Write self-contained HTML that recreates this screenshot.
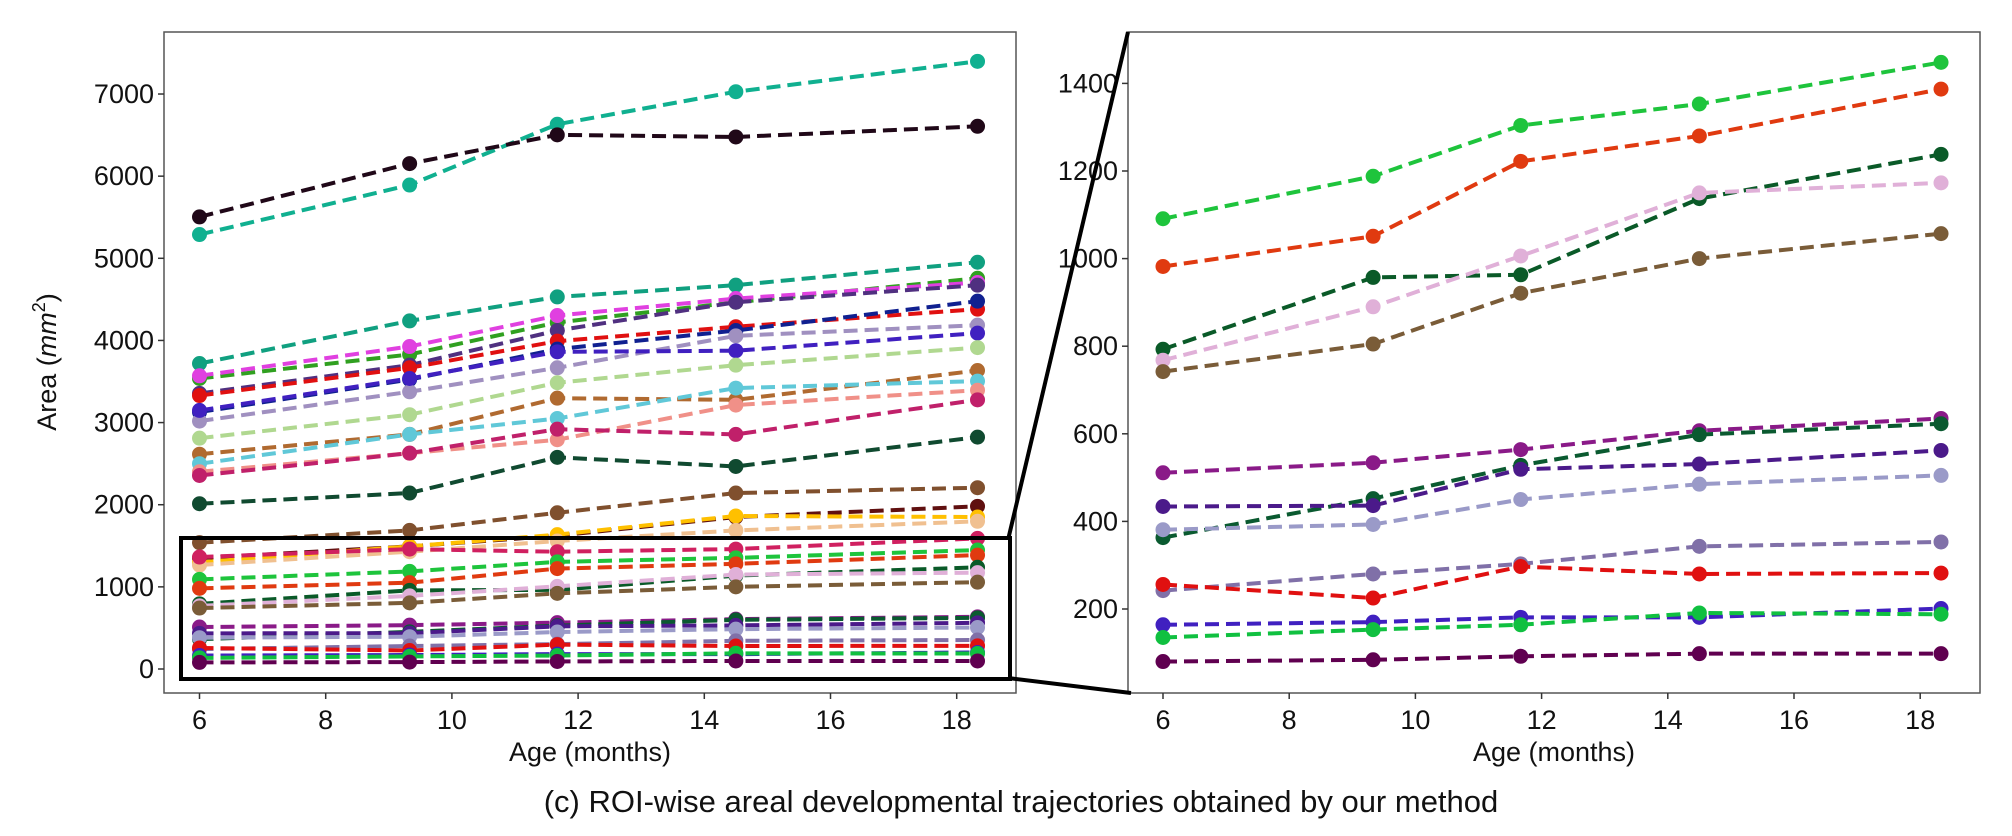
<!DOCTYPE html>
<html><head><meta charset="utf-8">
<style>
body{margin:0;background:#fff;}
svg{display:block;font-family:"Liberation Sans","DejaVu Sans",sans-serif;}
</style></head>
<body>
<svg id="chart" width="2012" height="836" viewBox="0 0 2012 836" xmlns="http://www.w3.org/2000/svg">
<g id="left"></g>
<g id="right"></g>
<text x="1021" y="812" font-size="31" text-anchor="middle" fill="#111">(c) ROI-wise areal developmental trajectories obtained by our method</text>
</svg>
<script>
const ages = [6, 9.33, 11.67, 14.5, 18.33];
const xTicks = [6, 8, 10, 12, 14, 16, 18];
const leftYTicks = [0, 1000, 2000, 3000, 4000, 5000, 6000, 7000];
const rightYTicks = [200, 400, 600, 800, 1000, 1200, 1400];

// series shared by both panels (zoomed region)
const zoomColors = ["#1ec43c","#e03a10","#0a5a28","#e0b0d8","#7a5c38","#8a1a88","#0a5a30","#4b1a8a","#9a9ac8","#8070a8","#e01010","#4020c0","#10c040","#600050"];
const zoomValues = [
 [1091,1188,1304,1353,1448],
 [982,1051,1222,1280,1387],
 [793,957,963,1137,1238],
 [768,890,1006,1150,1173],
 [742,805,921,1000,1057],
 [511,534,564,607,635],
 [363,452,528,598,623],
 [434,436,519,531,562],
 [381,393,450,485,505],
 [242,280,303,343,353],
 [256,225,297,280,282],
 [164,170,181,181,201],
 [135,153,164,191,188],
 [80,84,92,98,98]
];
// other series only in left panel
const upperColors = ["#10b090","#200818","#10a080","#30a020","#e040e0","#503080","#e01010","#102090","#a090c0","#4020c0","#b0d890","#b06a30","#60c8d8","#f09088","#c0206a","#104a30","#80502e","#601010","#ffc000","#f0c090","#d02060"];
const upperValues = [
 [5289,5892,6632,7028,7398],
 [5504,6153,6503,6477,6607],
 [3719,4238,4530,4673,4952],
 [3537,3829,4219,4465,4757],
 [3570,3926,4303,4510,4705],
 [3355,3699,4121,4465,4673],
 [3329,3667,3991,4167,4381],
 [3128,3524,3894,4121,4478],
 [3018,3375,3667,4056,4186],
 [3148,3537,3861,3875,4089],
 [2810,3096,3485,3699,3913],
 [2615,2856,3297,3277,3634],
 [2499,2856,3050,3420,3505],
 [2401,2628,2791,3213,3394],
 [2356,2628,2920,2856,3277],
 [2012,2142,2577,2466,2823],
 [1538,1687,1902,2142,2207],
 [1350,1493,1623,1850,1980],
 [1298,1493,1636,1863,1850],
 [1266,1428,1558,1687,1798],
 [1363,1460,1428,1460,1590]
];

const NS="http://www.w3.org/2000/svg";
function mk(parent,tag,attrs){const e=document.createElementNS(NS,tag);for(const k in attrs)e.setAttribute(k,attrs[k]);parent.appendChild(e);return e;}

function panel(g, box, xScale, yScale, yTicks, seriesList, prefix){
  const frame = mk(g,'rect',{x:box.l,y:box.t,width:box.r-box.l,height:box.b-box.t,fill:'#fff',stroke:'#555','stroke-width':1.5});
  
  
  xTicks.forEach(t=>{
    const x=xScale(t);
    const tk=mk(g,'line',{x1:x,x2:x,y1:box.b,y2:box.b+6,stroke:'#333','stroke-width':1.5});
    
    
    const tl=mk(g,'text',{x:x,y:box.b+36,'font-size':27,'text-anchor':'middle',fill:'#111'});
    tl.textContent=t;
    
    
  });
  yTicks.forEach(t=>{
    const y=yScale(t);
    const tk=mk(g,'line',{x1:box.l-6,x2:box.l,y1:y,y2:y,stroke:'#333','stroke-width':1.5});
    
    
    const tl=mk(g,'text',{x:box.l-10,y:y+9,'font-size':27,'text-anchor':'end',fill:'#111'});
    tl.textContent=t;
    
    
  });
  seriesList.forEach(s=>{
    const sg=mk(g,'g',{});
    
    
    const pts=s.v.map((v,i)=>xScale(ages[i])+','+yScale(v)).join(' ');
    mk(sg,'polyline',{points:pts,fill:'none',stroke:s.c,'stroke-width':4,'stroke-dasharray':'14 7'});
    s.v.forEach((v,i)=>{
      const c=mk(sg,'circle',{cx:xScale(ages[i]),cy:yScale(v),r:7.5,fill:s.c});
      
      
    });
  });
  const xl=mk(g,'text',{x:(box.l+box.r)/2,y:box.b+68,'font-size':27,'text-anchor':'middle',fill:'#111'});
  xl.textContent='Age (months)';
  
  
}

const L={l:164,t:32,r:1016,b:693};
const R={l:1128,t:32,r:1980,b:693};
const lx=v=>199.5+(v-6)*63.1;
const ly=v=>669-v*0.08214;
const rx=v=>1163+(v-6)*63.1;
const ry=v=>696.6-v*0.438;

const leftSeries=upperColors.map((c,i)=>({c:c,v:upperValues[i]})).concat(zoomColors.map((c,i)=>({c:c,v:zoomValues[i]})));
const rightSeries=zoomColors.map((c,i)=>({c:c,v:zoomValues[i]}));
panel(document.getElementById('left'),L,lx,ly,leftYTicks,leftSeries,'left');
panel(document.getElementById('right'),R,rx,ry,rightYTicks,rightSeries,'right');

const lg=document.getElementById('left');
const yt=mk(lg,'text',{x:0,y:0,'font-size':27,'text-anchor':'middle',fill:'#111',transform:'translate(56,362) rotate(-90)'});
yt.innerHTML='Area (<tspan font-style="italic">mm</tspan><tspan font-size="18" dy="-11">2</tspan><tspan dy="11">)</tspan>';



const svg=document.getElementById('chart');
const zr=mk(svg,'rect',{x:181,y:538,width:829,height:141,fill:'none',stroke:'#000','stroke-width':4});


const c1=mk(svg,'line',{x1:1008,y1:540,x2:1128,y2:32,stroke:'#000','stroke-width':4});


const c2=mk(svg,'line',{x1:1008,y1:678,x2:1131,y2:693,stroke:'#000','stroke-width':4});


</script>
</body></html>
